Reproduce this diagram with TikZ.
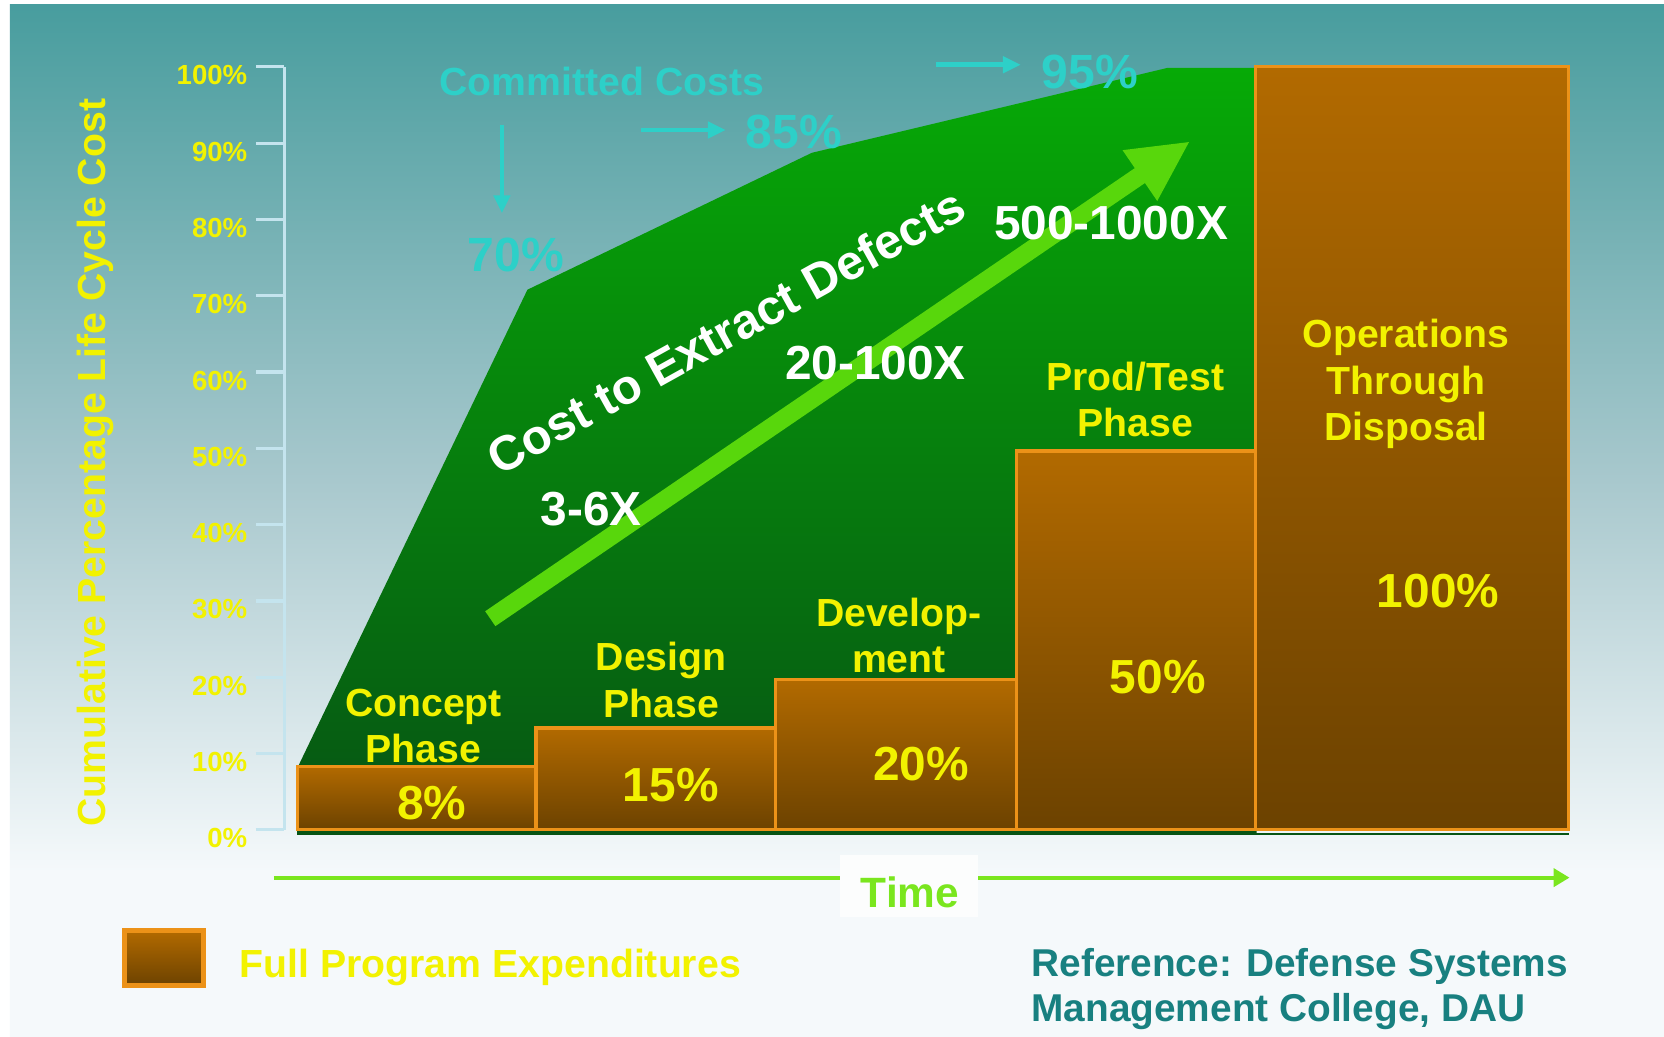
\documentclass[tikz,border=0pt]{standalone}
\usepackage{fontspec}
\setmainfont{Liberation Sans}
\usetikzlibrary{arrows.meta}
\definecolor{bgtop}{RGB}{72,157,158}
\definecolor{bgmid}{RGB}{168,200,205}
\definecolor{bgbot}{RGB}{245,249,251}
\definecolor{grtop}{RGB}{6,170,6}
\definecolor{grbot}{RGB}{6,84,20}
\definecolor{bartop}{RGB}{178,106,0}
\definecolor{barbot}{RGB}{108,66,0}
\definecolor{barline}{RGB}{236,146,24}
\definecolor{arrowgreen}{RGB}{88,215,12}
\definecolor{cyanc}{RGB}{45,208,200}
\definecolor{ylw}{RGB}{242,242,0}
\definecolor{axisc}{RGB}{196,228,238}
\definecolor{timec}{RGB}{122,230,30}
\definecolor{refc}{RGB}{24,128,128}
\definecolor{timebox}{RGB}{252,253,253}
\pgfdeclareverticalshading{bgshade}{100bp}{color(0bp)=(bgbot); color(33bp)=(bgbot); color(52bp)=(bgmid); color(75bp)=(bgtop); color(100bp)=(bgtop)}
\tikzset{
  every node/.style={inner sep=0pt, outer sep=0pt},
  phase/.style={font=\bfseries\fontsize{19.6pt}{23.3pt}\selectfont, text=ylw, align=center},
  pct/.style={font=\bfseries\fontsize{23.9pt}{28pt}\selectfont, text=ylw},
  axl/.style={font=\bfseries\fontsize{13.8pt}{16pt}\selectfont, text=ylw, anchor=east},
  cyantxt/.style={font=\bfseries\fontsize{19.6pt}{23pt}\selectfont, text=cyanc},
  cyanpct/.style={font=\bfseries\fontsize{24pt}{28pt}\selectfont, text=cyanc},
  mult/.style={font=\bfseries\fontsize{23.9pt}{28pt}\selectfont, text=white},
  barbox/.style={draw=barline, line width=1.6pt, top color=bartop, bottom color=barbot},
  cyanarrow/.style={draw=cyanc, line width=2.4pt, -{Triangle[length=9pt,width=8pt]}},
  timearrow/.style={draw=timec, line width=2.1pt, -{Triangle[length=8pt,width=9pt]}},
  axisline/.style={draw=axisc, line width=1.6pt},
}
\begin{document}
\begin{tikzpicture}[x=0.5306pt, y=-0.5306pt]
\useasboundingbox (0,0) rectangle (1568,977);
% background
\fill[white] (0,0) rectangle (1568,977);
\shade[shading=bgshade] (9.4,4.7) rectangle (1568,977);

% axis
\coordinate (axtop) at (268,63);
\coordinate (axbot) at (268,782);
\draw[axisline] (axtop) -- (axbot);
\foreach \p in {0,10,...,100}{
  \draw[axisline] (241,{782-7.19*\p}) -- (268,{782-7.19*\p});
}
\node[axl] (l100) at (233,{782-7.19*100+8}) {100\%};
\node[axl] (l90) at (233,{782-7.19*90+8}) {90\%};
\node[axl] (l80) at (233,{782-7.19*80+8}) {80\%};
\node[axl] (l70) at (233,{782-7.19*70+8}) {70\%};
\node[axl] (l60) at (233,{782-7.19*60+8}) {60\%};
\node[axl] (l50) at (233,{782-7.19*50+8}) {50\%};
\node[axl] (l40) at (233,{782-7.19*40+8}) {40\%};
\node[axl] (l30) at (233,{782-7.19*30+8}) {30\%};
\node[axl] (l20) at (233,{782-7.19*20+8}) {20\%};
\node[axl] (l10) at (233,{782-7.19*10+8}) {10\%};
\node[axl] (l0) at (233,{782+8}) {0\%};
\node[font=\bfseries\fontsize{19.6pt}{23pt}\selectfont, text=ylw, rotate=90] (ytitle) at (90,436) {Cumulative Percentage Life Cycle Cost};

% committed cost area
\shade[top color=grtop, bottom color=grbot] (281,722) -- (497,273) -- (765,144) -- (1100,64) -- (1184,64) -- (1184,785) -- (280,785) -- cycle;
\draw[grbot, line width=1pt] (280,785.5) -- (1478,785.5);

% big arrow
\begin{scope}[shift={(462,583)}, rotate=34.3]
\fill[arrowgreen] (0,-8.5) -- (741,-8.5) -- (741,-29) -- (797,0) -- (741,29) -- (741,8.5) -- (0,8.5) -- cycle;
\end{scope}

% bars
\draw[barbox] (280,722) rectangle (505,782);
\draw[barbox] (505,686) rectangle (731,782);
\draw[barbox] (731,640) rectangle (958,782);
\draw[barbox] (958,425) rectangle (1183,782);
\draw[barbox] (1183,63) rectangle (1478,782);

% phase labels
\node[phase] (concept) at (399,684) {Concept\\Phase};
\node[pct] (p8) at (407,757) {8\%};
\node[phase] (design) at (623,641) {Design\\Phase};
\node[pct] (p15) at (632,740) {15\%};
\node[phase] (develop) at (847,599) {Develop-\\ment};
\node[pct] (p20) at (868,720) {20\%};
\node[phase] (prod) at (1070,376.5) {Prod/Test\\Phase};
\node[pct] (p50) at (1091,638) {50\%};
\node[phase] (ops) at (1325,362) {Operations\\Through\\Disposal};
\node[pct] (p100) at (1355,557) {100\%};

% cost to extract
\node[font=\bfseries\fontsize{24.4pt}{28pt}\selectfont, text=white, rotate=29] (cted) at (684,312) {Cost to Extract Defects};
\node[mult] (m1) at (557,480) {3-6X};
\node[mult] (m2) at (825,342) {20-100X};
\node[mult] (m3) at (1047,210) {500-1000X};

% committed costs
\node[cyantxt] (cc) at (567,77) {Committed Costs};
\node[cyanpct] (c70) at (486,240) {70\%};
\node[cyanpct] (c85) at (748,124) {85\%};
\node[cyanpct] (c95) at (1027,68) {95\%};
\coordinate (a1s) at (473,118);
\coordinate (a1e) at (473,201);
\coordinate (a2s) at (604,122.5);
\coordinate (a2e) at (684,122.5);
\coordinate (a3s) at (882,61);
\coordinate (a3e) at (962,61);
\draw[cyanarrow] (a1s) -- (a1e);
\draw[cyanarrow] (a2s) -- (a2e);
\draw[cyanarrow] (a3s) -- (a3e);

% time axis
\coordinate (tstart) at (258,827);
\coordinate (tend) at (1479,827);
\draw[timearrow] (tstart) -- (tend);
\fill[timebox] (791.5,806) rectangle (921.5,864);
\node[font=\bfseries\fontsize{21.2pt}{24pt}\selectfont, text=timec] (time) at (857.5,840.5) {Time};

% legend
\draw[draw=barline, line width=2.4pt, top color=bartop, bottom color=barbot] (117,877) rectangle (192,929);
\node[font=\bfseries\fontsize{19.6pt}{23pt}\selectfont, text=ylw, anchor=west] (legend) at (226,912) {Full Program Expenditures};
\node[font=\bfseries\fontsize{19.4pt}{22.8pt}\selectfont, text=refc, anchor=west, align=left] (ref) at (972,932) {Reference: Defense Systems\\Management College, DAU};
\end{tikzpicture}
\end{document}
